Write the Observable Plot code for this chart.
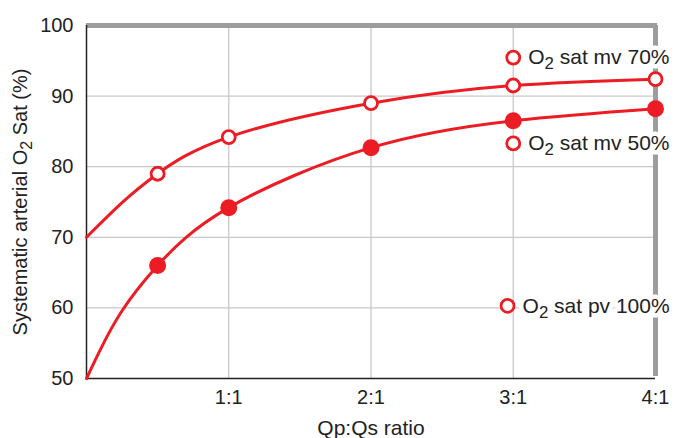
<!DOCTYPE html>
<html>
<head>
<meta charset="utf-8">
<script src="https://cdn.jsdelivr.net/npm/d3@7"></script>
<script src="https://cdn.jsdelivr.net/npm/@observablehq/plot@0.6"></script>
<style>
  html, body { margin: 0; padding: 0; background: #fff; }
  #chart { width: 677px; height: 438px; }
</style>
</head>
<body>
<div id="chart"></div>
<script>
// Qp:Qs ratio positions of the measured points
const ratios = [0.5, 1, 2, 3, 4];
// Systemic arterial O2 sat, mixed venous 70% (open circles)
const satMv70 = [79, 84.2, 89, 91.5, 92.4];
// Systemic arterial O2 sat, mixed venous 50% (filled circles)
const satMv50 = [66, 74.2, 82.7, 86.5, 88.2];
// Curve traces (including the start at ratio 0)
const curveMv70X = [0, 0.25, 0.5, 1, 2, 3, 4];
const curveMv70Y = [70, 74.9, 79, 84.2, 89, 91.5, 92.4];
const curveMv50X = [0, 0.1, 0.25, 0.5, 1, 2, 3, 4];
const curveMv50Y = [50, 54.2, 59.6, 66, 74.2, 82.7, 86.5, 88.2];
// Axis ticks
const xTicks = [1, 2, 3, 4];
const xTickLabels = ["1:1", "2:1", "3:1", "4:1"];
const yTicks = [50, 60, 70, 80, 90, 100];
const gridY = [60, 70, 80, 90];
const gridX = [1, 2, 3];
// Legend entries
const legendLabels = ["O2 sat mv 70%", "O2 sat mv 50%", "O2 sat pv 100%"];

const RED = "#ec1c24";
const GRAY = "#9d9d9d";
const INK = "#222";
const FONT = "Liberation Sans, Arial, Helvetica, sans-serif";

const pts70 = ratios.map((r, i) => ({x: r, y: satMv70[i]}));
const pts50 = ratios.map((r, i) => ({x: r, y: satMv50[i]}));
const c70 = curveMv70X.map((x, i) => ({x, y: curveMv70Y[i]}));
const c50 = curveMv50X.map((x, i) => ({x, y: curveMv50Y[i]}));
// legend anchor positions (layout)
const legendPos = [{x: 3, y: 95.45}, {x: 3, y: 83.3}, {x: 2.96, y: 60.3}];
const legend = legendLabels.map((t, i) => ({...legendPos[i], t}));

const plot = Plot.plot({
  width: 677,
  height: 438,
  marginTop: 25,
  marginRight: 22,
  marginBottom: 60,
  marginLeft: 86,
  style: {fontFamily: FONT, fontSize: "20px", color: INK, background: "#fff"},
  x: {domain: [0, 4]},
  y: {domain: [50, 100]},
  marks: [
    Plot.ruleY(gridY, {stroke: "#c8c8c8", strokeWidth: 1.3}),
    Plot.ruleX(gridX, {stroke: "#c8c8c8", strokeWidth: 1.3}),
    Plot.ruleX([4], {stroke: GRAY, strokeWidth: 5, y1: 50, y2: 100, insetTop: -2}),
    Plot.ruleY([100], {stroke: GRAY, strokeWidth: 5, x1: 0, x2: 4, insetRight: -2}),
    Plot.ruleX([0], {stroke: INK, strokeWidth: 1.5}),
    Plot.ruleY([50], {stroke: INK, strokeWidth: 1.5}),
    Plot.axisX(xTicks, {
      tickSize: 0, tickPadding: 11, fontSize: 20, fill: INK,
      tickFormat: (d) => xTickLabels[xTicks.indexOf(d)],
      label: "Qp:Qs ratio", labelAnchor: "center", labelOffset: 56, labelArrow: "none"
    }),
    Plot.axisY(yTicks, {
      tickSize: 0, tickPadding: 13, fontSize: 20, fill: INK,
      label: "Systematic arterial O2 Sat (%)", labelAnchor: "center", labelOffset: 74, labelArrow: "none"
    }),
    Plot.line(c70, {x: "x", y: "y", stroke: RED, strokeWidth: 3, curve: "natural"}),
    Plot.line(c50, {x: "x", y: "y", stroke: RED, strokeWidth: 3, curve: "natural"}),
    Plot.dot(pts70, {x: "x", y: "y", r: 6.5, fill: "white", stroke: RED, strokeWidth: 2.8}),
    Plot.dot(pts50, {x: "x", y: "y", r: 8.5, fill: RED, stroke: RED, strokeWidth: 0}),
    // white halo behind legend labels
    Plot.text(legend, {x: "x", y: "y", text: "t", textAnchor: "start", dx: 15, fontSize: 21,
      fill: "white", stroke: "white", strokeWidth: 9, fontFamily: FONT}),
    Plot.text(legend, {x: "x", y: "y", text: "t", textAnchor: "start", dx: 15, fontSize: 21,
      fill: INK, fontFamily: FONT}),
    Plot.dot(legend, {x: "x", y: "y", r: 6.5, fill: "white", stroke: RED, strokeWidth: 2.8})
  ]
});

document.getElementById("chart").appendChild(plot);

// Render "O2" with a subscript 2
d3.select(plot).selectAll("text").each(function() {
  const el = this;
  const txt = el.textContent;
  if (!txt.includes("O2")) return;
  const parts = txt.split("O2");
  while (el.firstChild) el.removeChild(el.firstChild);
  const NS = "http://www.w3.org/2000/svg";
  parts.forEach((p, i) => {
    if (i > 0) {
      const o = document.createElementNS(NS, "tspan");
      o.textContent = "O";
      el.appendChild(o);
      const s = document.createElementNS(NS, "tspan");
      s.textContent = "2";
      s.setAttribute("dy", "0.3em");
      s.setAttribute("font-size", "0.8em");
      el.appendChild(s);
      const r = document.createElementNS(NS, "tspan");
      r.setAttribute("dy", "-0.24em");
      r.textContent = p;
      el.appendChild(r);
    } else if (p) {
      const t = document.createElementNS(NS, "tspan");
      t.textContent = p;
      el.appendChild(t);
    }
  });
});
// axis labels sized like the reference
d3.select(plot).selectAll("text").filter(function() {
  return this.textContent.startsWith("Systematic");
}).style("font-size", "20px");
d3.select(plot).selectAll("text").filter(function() {
  return this.textContent.startsWith("Qp:Qs");
}).style("font-size", "21px");
</script>
</body>
</html>
